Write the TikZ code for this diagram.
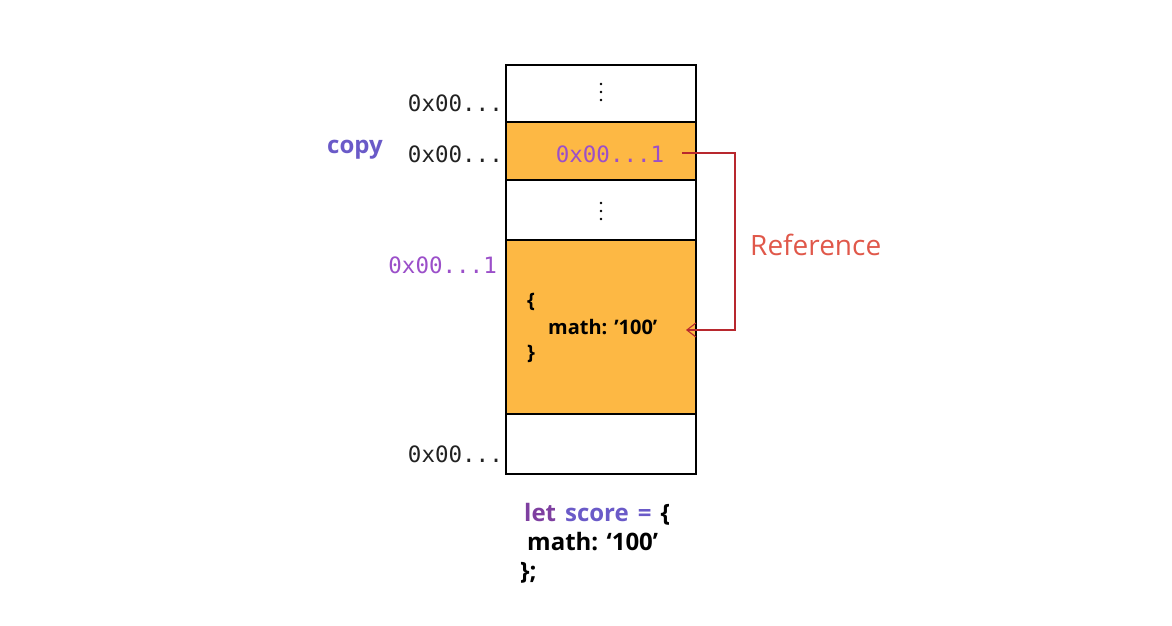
\documentclass[tikz,border=0pt]{standalone}
\usepackage{fontspec}
\setmainfont{Open Sans}
\newfontfamily\addrfont{DejaVu Sans Mono}
\usetikzlibrary{arrows.meta}
\definecolor{cellorange}{HTML}{FDB844}
\definecolor{addrgray}{HTML}{222222}
\definecolor{addrpurple}{HTML}{9B4FC9}
\definecolor{copyblue}{HTML}{6A5AC8}
\definecolor{letpurple}{HTML}{7E3FA0}
\definecolor{refred}{HTML}{E0584A}
\definecolor{arrred}{HTML}{B8282E}
\begin{document}
\begin{tikzpicture}[x=1pt,y=-1pt,
  cell/.style={draw=black, line width=1.2pt},
  addr/.style={font=\addrfont\fontsize{22.5}{26}\selectfont, text=addrgray, anchor=east, inner sep=0pt},
  code/.style={font=\bfseries\fontsize{20}{24}\selectfont, anchor=west, inner sep=0pt},
  bcode/.style={font=\bfseries\fontsize{24}{28}\selectfont, anchor=base west, inner sep=0pt},
  dot/.style={fill=black, circle, inner sep=0pt, minimum size=2.8pt}]
\useasboundingbox (0,0) rectangle (1172,625);
% cells
\draw[cell, fill=white] (506,65) rectangle (696,122);
\draw[cell, fill=cellorange] (506,122) rectangle (696,180);
\draw[cell, fill=white] (506,180) rectangle (696,240);
\draw[cell, fill=cellorange] (506,240) rectangle (696,414);
\draw[cell, fill=white] (506,414) rectangle (696,474);
% dots
\foreach \y [count=\i] in {84,92,100} {\node[dot] (u\i) at (601,\y) {};}
\foreach \y [count=\i] in {203,211,219} {\node[dot] (v\i) at (601,\y) {};}
% address labels
\node[addr] (a1) at (503,103) {0x00...};
\node[addr] (a2) at (503,154) {0x00...};
\node[addr, text=addrpurple] (a3) at (497,265) {0x00...1};
\node[addr] (a4) at (503,454) {0x00...};
\node[font=\bfseries\fontsize{24}{28}\selectfont, text=copyblue, inner sep=0pt] (copy) at (355,150) {copy};
% value in copy cell
\node[addr, text=addrpurple, anchor=center] (ptr) at (610,154) {0x00...1};
% object content
\node[code] (ob) at (527,302) {\{};
\node[code] (om) at (548,327) {math: ’100’};
\node[code] (oc) at (527,354) {\}};
% reference arrow
\coordinate (r1) at (735,153);
\coordinate (r2) at (735,330);
\coordinate (tip) at (686,330);
\coordinate (s) at (682,153);
\draw[arrred, line width=1.1pt, -{Straight Barb[length=9pt,width=14pt]}] (s) -- (r1) -- (r2) -- (tip);
\node[text=refred, font=\fontsize{28}{32}\selectfont, anchor=west, inner sep=0pt] (ref) at (750,245) {Reference};
% bottom code
\node[bcode] (l1) at (524,521) {\textcolor{letpurple}{let}\hspace{9pt}\textcolor{copyblue}{score\hspace{9pt}=}\hspace{9pt}\{};
\node[bcode] (l2) at (527,550) {math: ‘100’};
\node[bcode] (l3) at (520,579) {\};};
\end{tikzpicture}
\end{document}
